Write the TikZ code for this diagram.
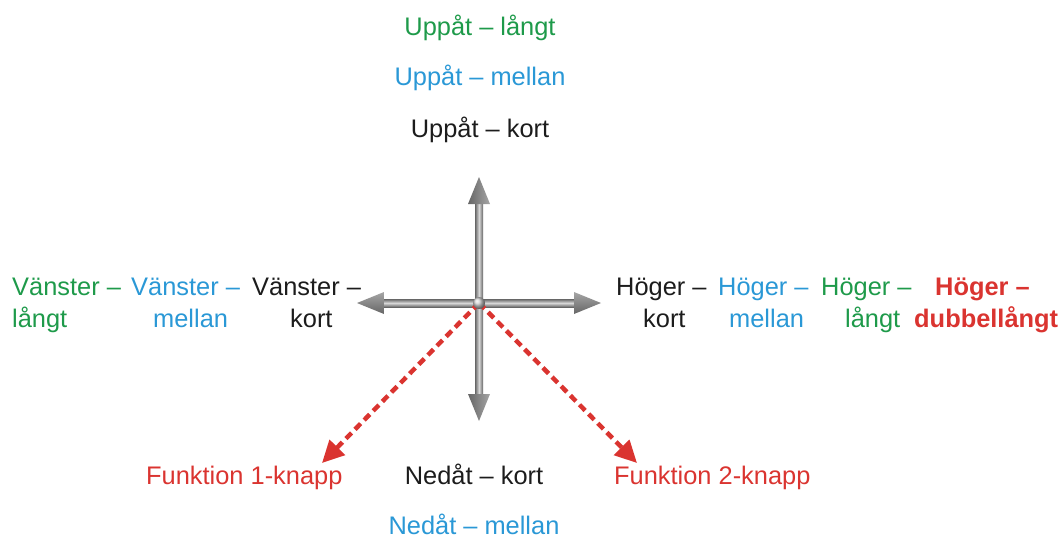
\documentclass[tikz,border=0pt]{standalone}
\usepackage{fontspec}
\setmainfont{Liberation Sans}
\usetikzlibrary{arrows.meta}
\definecolor{tgreen}{HTML}{1E9A4A}
\definecolor{tblue}{HTML}{2A98D6}
\definecolor{tred}{HTML}{DA3430}
\definecolor{tblack}{HTML}{1C1C1C}
\definecolor{agray}{HTML}{666666}
\definecolor{mgray}{HTML}{D8D8D8}
\begin{document}
\begin{tikzpicture}[x=1pt,y=-1pt,
  lbl/.style={font=\fontsize{25.4}{30}\selectfont, inner sep=0pt},
  lblb/.style={font=\fontsize{25.4}{30}\selectfont\bfseries, inner sep=0pt},
  hshaft/.style={top color=agray, bottom color=agray, middle color=mgray, draw=none},
  vshaft/.style={left color=agray, right color=agray, middle color=mgray, draw=none},
  redarrow/.style={draw=tred, line width=4.5pt, dash pattern=on 8pt off 5pt,
     -{Triangle[length=22pt,width=21pt]}}]
\useasboundingbox (0,0) rectangle (1062,538);

% centre
\coordinate (c) at (479,303);

% up arm
\shade[vshaft] (475,303) rectangle (483,202);
\shade[left color=agray, right color=gray!70] (468,204) -- (479,177) -- (490,204) -- cycle;
% down arm
\shade[vshaft] (475,303) rectangle (483,396);
\shade[left color=agray, right color=gray!70] (468,394) -- (479,421) -- (490,394) -- cycle;
% left arm
\shade[hshaft] (479,299) rectangle (382,307);
\shade[top color=gray!70, bottom color=agray] (384,292) -- (357,303) -- (384,314) -- cycle;
% right arm
\shade[hshaft] (479,299) rectangle (576,307);
\shade[top color=gray!70, bottom color=agray] (574,292) -- (601,303) -- (574,314) -- cycle;

% dashed red arrows
\coordinate (f1tip) at (322,463);
\coordinate (f2tip) at (637,463);
\draw[redarrow] (c) -- (f1tip);
\draw[redarrow] (c) -- (f2tip);

% knob
\shade[ball color=gray!35] (c) circle (6);

% up labels
\node[lbl, text=tgreen, anchor=base] (ul) at (480,35) {Uppåt – långt};
\node[lbl, text=tblue, anchor=base] (um) at (480,85) {Uppåt – mellan};
\node[lbl, text=tblack, anchor=base] (uk) at (480,137) {Uppåt – kort};

% left labels
\node[lbl, text=tgreen, anchor=base west] (vl1) at (12,295) {Vänster –};
\node[lbl, text=tgreen, anchor=base west] (vl2) at (12,327) {långt};
\node[lbl, text=tblue, anchor=base west] (vm1) at (131,295) {Vänster –};
\node[lbl, text=tblue, anchor=base west] (vm2) at (153,327) {mellan};
\node[lbl, text=tblack, anchor=base west] (vk1) at (252,295) {Vänster –};
\node[lbl, text=tblack, anchor=base west] (vk2) at (290,327) {kort};

% right labels
\node[lbl, text=tblack, anchor=base west] (hk1) at (616,295) {Höger –};
\node[lbl, text=tblack, anchor=base west] (hk2) at (643,327) {kort};
\node[lbl, text=tblue, anchor=base west] (hm1) at (718,295) {Höger –};
\node[lbl, text=tblue, anchor=base west] (hm2) at (729,327) {mellan};
\node[lbl, text=tgreen, anchor=base west] (hl1) at (821,295) {Höger –};
\node[lbl, text=tgreen, anchor=base west] (hl2) at (845,327) {långt};
\node[lblb, text=tred, anchor=base west] (hd1) at (935,295) {Höger –};
\node[lblb, text=tred, anchor=base west] (hd2) at (914,327) {dubbellångt};

% bottom labels
\node[lbl, text=tred, anchor=base west] (f1) at (146,484) {Funktion 1-knapp};
\node[lbl, text=tblack, anchor=base] (nk) at (474,484) {Nedåt – kort};
\node[lbl, text=tred, anchor=base west] (f2) at (614,484) {Funktion 2-knapp};
\node[lbl, text=tblue, anchor=base] (nm) at (474,534) {Nedåt – mellan};
\end{tikzpicture}
\end{document}
